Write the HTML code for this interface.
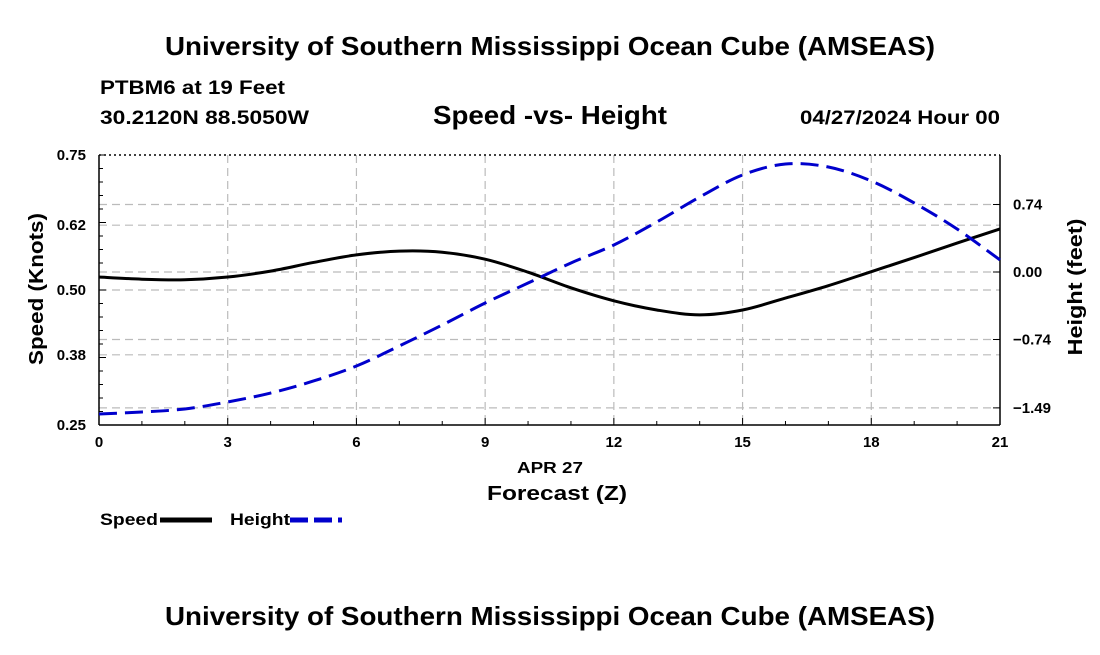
<!DOCTYPE html>
<html><head><meta charset="utf-8">
<style>
body{margin:0;background:#fff;width:1100px;height:650px;overflow:hidden;font-family:"Liberation Sans",sans-serif;}
svg text{font-family:"Liberation Sans",sans-serif;font-weight:bold;fill:#000;}
</style></head>
<body>
<svg id="chart" width="1100" height="650" viewBox="0 0 1100 650">
<text x="165" y="55" font-size="26" textLength="770" lengthAdjust="spacingAndGlyphs">University of Southern Mississippi Ocean Cube (AMSEAS)</text>
<text x="100" y="94" font-size="19" textLength="185" lengthAdjust="spacingAndGlyphs">PTBM6 at 19 Feet</text>
<text x="100" y="124" font-size="19" textLength="209" lengthAdjust="spacingAndGlyphs">30.2120N  88.5050W</text>
<text x="433" y="124" font-size="26" textLength="234" lengthAdjust="spacingAndGlyphs">Speed -vs- Height</text>
<text x="800" y="124" font-size="19" textLength="200" lengthAdjust="spacingAndGlyphs">04/27/2024 Hour 00</text>
<text x="165" y="625" font-size="26" textLength="770" lengthAdjust="spacingAndGlyphs">University of Southern Mississippi Ocean Cube (AMSEAS)</text>
<g id="grid"></g>
<g id="axes"></g>
<path id="speedLine" fill="none" stroke="#000" stroke-width="3"/>
<path id="heightLine" fill="none" stroke="#0000cc" stroke-width="3" stroke-dasharray="18,8"/>
<text transform="translate(43,289) rotate(-90)" font-size="20" text-anchor="middle" textLength="152" lengthAdjust="spacingAndGlyphs">Speed (Knots)</text>
<text transform="translate(1082,287) rotate(-90)" font-size="20" text-anchor="middle" textLength="137" lengthAdjust="spacingAndGlyphs">Height (feet)</text>
<text x="517" y="473" font-size="16" textLength="66" lengthAdjust="spacingAndGlyphs">APR 27</text>
<text x="487" y="500" font-size="20" textLength="140" lengthAdjust="spacingAndGlyphs">Forecast (Z)</text>
<g>
<text x="100" y="525" font-size="17" textLength="58" lengthAdjust="spacingAndGlyphs">Speed</text>
<line x1="160" y1="520" x2="212" y2="520" stroke="#000" stroke-width="5"/>
<text x="230" y="525" font-size="17" textLength="60" lengthAdjust="spacingAndGlyphs">Height</text>
<line x1="290" y1="520" x2="342" y2="520" stroke="#0000cc" stroke-width="5" stroke-dasharray="18,6"/>
</g>
</svg>
<script>
const hours=[0,1,2,3,4,5,6,7,8,9,10,11,12,13,14,15,16,17,18,19,20,21];
const speed=[0.524,0.520,0.519,0.524,0.535,0.551,0.565,0.572,0.570,0.557,0.533,0.504,0.480,0.463,0.454,0.463,0.485,0.508,0.534,0.560,0.587,0.613];
const height=[-1.557,-1.535,-1.502,-1.425,-1.327,-1.195,-1.031,-0.811,-0.581,-0.340,-0.121,0.099,0.296,0.548,0.822,1.064,1.184,1.151,0.998,0.757,0.471,0.132];
const xTicks=[0,3,6,9,12,15,18,21];
const speedTicks=[0.25,0.38,0.50,0.62,0.75];
const speedTickLabels=["0.25","0.38","0.50","0.62","0.75"];
const heightTicks=[-1.49,-0.74,0.00,0.74];
const heightTickLabels=["\u22121.49","\u22120.74","0.00","0.74"];

const L=99,R=1000,T=155,B=425;
const x=h=>L+(h-0)/(21-0)*(R-L);
const ys=v=>B-(v-0.25)/(0.75-0.25)*(B-T);
const hPx=91.2,hZero=272;
const yh=v=>hZero-v*hPx;
const NS="http://www.w3.org/2000/svg";
function mk(tag,attrs,parent){const e=document.createElementNS(NS,tag);for(const k in attrs)e.setAttribute(k,attrs[k]);parent.appendChild(e);return e;}
const grid=document.getElementById('grid'),axes=document.getElementById('axes');
const dash={stroke:"#bbb","stroke-width":1.2,"stroke-dasharray":"8,5"};
xTicks.forEach(t=>{if(t>0&&t<21){const g=mk('line',Object.assign({x1:x(t),x2:x(t),y1:T,y2:B},dash),grid);

}});
speedTicks.forEach(t=>{if(t>0.25&&t<0.75){const g=mk('line',Object.assign({x1:L,x2:R,y1:ys(t),y2:ys(t)},dash),grid);

}});
heightTicks.forEach(t=>{const g=mk('line',Object.assign({x1:L,x2:R,y1:yh(t),y2:yh(t)},dash),grid);

});
const f1=mk('line',{x1:L,x2:L,y1:T,y2:B,stroke:"#000","stroke-width":1.5},axes);


const f2=mk('line',{x1:R,x2:R,y1:T,y2:B,stroke:"#000","stroke-width":1.5},axes);


const f3=mk('line',{x1:L,x2:R,y1:B,y2:B,stroke:"#000","stroke-width":1.5},axes);


const f4=mk('line',{x1:L,x2:R,y1:T,y2:T,stroke:"#000","stroke-width":1.5,"stroke-dasharray":"2,3"},axes);


for(let h=0;h<=21;h++){const m=mk('line',{x1:x(h),x2:x(h),y1:B,y2:B-(h%3===0?7:4),stroke:"#000"},axes);

}
xTicks.forEach((t,i)=>{const tx=mk('text',{x:x(t),y:B+22,"font-size":15,"text-anchor":"middle"},axes);tx.textContent=t;

});
for(let v=0.25;v<=0.751;v+=0.025){const m=mk('line',{x1:L,x2:L+(Math.abs(((v-0.25)/0.125)-Math.round((v-0.25)/0.125))<0.01?7:4),y1:ys(v),y2:ys(v),stroke:"#000"},axes);

}
speedTicks.forEach((t,i)=>{const tx=mk('text',{x:L-13,y:ys(t)+5,"font-size":15,"text-anchor":"end"},axes);tx.textContent=speedTickLabels[i];

});
heightTicks.forEach((t,i)=>{const m=mk('line',{x1:R,x2:R-7,y1:yh(t),y2:yh(t),stroke:"#000"},axes);


const tx=mk('text',{x:R+13,y:yh(t)+5,"font-size":15},axes);tx.textContent=heightTickLabels[i];

});
function smooth(pts){let d=`M${pts[0][0]},${pts[0][1]}`;
for(let i=0;i<pts.length-1;i++){const p0=pts[i-1]||pts[i],p1=pts[i],p2=pts[i+1],p3=pts[i+2]||p2;
d+=` C${p1[0]+(p2[0]-p0[0])/6},${p1[1]+(p2[1]-p0[1])/6} ${p2[0]-(p3[0]-p1[0])/6},${p2[1]-(p3[1]-p1[1])/6} ${p2[0]},${p2[1]}`;}return d;}
document.getElementById('speedLine').setAttribute('d',smooth(hours.map((h,i)=>[x(h),ys(speed[i])])));
document.getElementById('heightLine').setAttribute('d',smooth(hours.map((h,i)=>[x(h),yh(height[i])])));
</script>
</body></html>
